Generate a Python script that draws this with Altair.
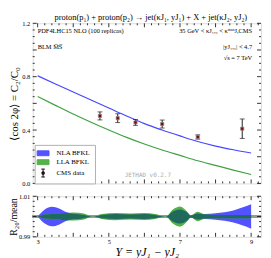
import altair as alt
import pandas as pd

SERIF = "Liberation Serif"

# ---- data ----
title_text = "proton(p₁) + proton(p₂) → jet(κJ₁, yJ₁) + X + jet(κJ₂, yJ₂)"
series_names = ["NLA BFKL", "LLA BFKL", "CMS data"]

curve_x = [3.0, 3.5, 4.0, 4.5, 5.0, 5.5, 6.0, 6.5, 7.0, 7.5, 8.0, 8.5, 9.0]
nla_mean = [0.807, 0.745, 0.685, 0.625, 0.565, 0.505, 0.448, 0.400, 0.356, 0.314, 0.280, 0.252, 0.228]
lla_mean = [0.651, 0.585, 0.520, 0.458, 0.400, 0.345, 0.295, 0.250, 0.210, 0.170, 0.135, 0.100, 0.067]

cms_x = [4.75, 5.25, 5.75, 6.5, 7.5, 8.75]
cms_y = [0.506, 0.489, 0.457, 0.445, 0.348, 0.410]
cms_err = [0.030, 0.033, 0.022, 0.030, 0.016, 0.073]

ratio_x = [3.0, 3.2, 3.4, 3.6, 3.8, 4.0, 4.3, 4.55, 4.8, 5.2, 5.6, 6.0, 6.3, 6.6,
           6.8, 7.0, 7.2, 7.3, 7.5, 7.7, 8.0, 8.5, 9.0]
nla_halfwidth = [0, .0035, .0048, .0040, .0022, .0014, .0008, 0, .0008, .0012, .0010, .0012, .0008, 0,
                 .0025, .0035, .0020, .0005, .0015, .0012, .0016, .0030, .0060]
lla_halfwidth = [0, .0010, .0012, .0015, .0018, .0020, .0015, 0, .0012, .0018, .0015, .0017, .0012, 0,
                 .0035, .0050, .0025, .0005, .0023, .0010, .0008, .0008, .0008]

x_ticks = [3, 4, 5, 6, 7, 8, 9]
x_minor = [round(3 + 0.2 * i, 2) for i in range(32) if i % 5 != 0]
y_ticks_top = [0.0, 0.2, 0.4, 0.6, 0.8, 1.0, 1.2]
y_minor_top = [round(0.05 * i, 3) for i in range(25) if i % 4 != 0]
y_ticks_bot = [0.99, 1.00, 1.01]
y_minor_bot = [0.9925, 0.995, 0.9975, 1.0025, 1.005, 1.0075]
x_domain = [2.861, 9.278]
top_domain = [0.0, 1.2]
bot_domain = [0.99, 1.01]

info_left = ["PDF4LHC15 NLO (100 replicas)", "BLM M̅S̅"]
info_right = ["35 GeV < κJ₁,₂ < κᵐᵃˣJ,CMS", "|yJ₁,₂| < 4.7", "√s = 7 TeV"]
watermark = "JETHAD v0.2.7"

BLUE = "#4747ff"
GREEN = "#3fa23f"
BAND_BLUE = "#5252ff"
BAND_GREEN = "#55b24a"
OVERLAP = "#1f6a5c"
DARKRED = "#8b0000"

W = 231
H_TOP = 162
H_BOT = 41
MAJ = 4
MIN = 2

# ---- tables ----
n = len(curve_x)
curves = pd.DataFrame({
    "x": curve_x + curve_x,
    "y": nla_mean + lla_mean,
    "s": ["NLA BFKL"] * n + ["LLA BFKL"] * n,
})
cms = pd.DataFrame({"x": cms_x, "y": cms_y, "err": cms_err})
cms["lo"] = cms["y"] - cms["err"]
cms["hi"] = cms["y"] + cms["err"]

legend_df = pd.DataFrame({"series": series_names, "x": [curve_x[0]] * 3, "y": [None] * 3})

ratio = pd.DataFrame({"x": ratio_x, "hb": nla_halfwidth, "hg": lla_halfwidth})
ratio["b_lo"] = 1 - ratio["hb"]
ratio["b_hi"] = 1 + ratio["hb"]
ratio["g_lo"] = 1 - ratio["hg"]
ratio["g_hi"] = 1 + ratio["hg"]
ratio["ov"] = ratio[["hb", "hg"]].min(axis=1)
ratio["o_lo"] = 1 - ratio["ov"]
ratio["o_hi"] = 1 + ratio["ov"]

# ---- scales/axes ----
xs = alt.Scale(domain=x_domain, nice=False, zero=False)
ys_top = alt.Scale(domain=top_domain, nice=False, zero=False)
ys_bot = alt.Scale(domain=bot_domain, nice=False, zero=False)

ax_common = dict(domain=False, grid=False, ticks=False, labelFontSize=6.5,
                 labelFont=SERIF, labelColor="black", labelOverlap=False,
                 titleFont=SERIF, titleColor="black", titleFontWeight="normal")

x_top_axis = alt.Axis(values=x_ticks, labels=False, title=None, **ax_common)
y_top_axis = alt.Axis(values=y_ticks_top, format=".1f", title="⟨cos 2φ⟩ = C₂/C₀",
                      titleFontSize=11, titlePadding=2, labelPadding=3, **ax_common)

x_bot_axis = alt.Axis(values=x_ticks, format="d", title="Y = yJ₁ − yJ₂",
                      titleFontSize=12, titleFontStyle="italic", titlePadding=1, labelPadding=2, **ax_common)
y_bot_axis = alt.Axis(values=y_ticks_bot, format=".2f", title="R₂₀/mean",
                      titleFontSize=10, titlePadding=0, labelPadding=3, **ax_common)


def frame_ticks(xvals, yvals, h, length):
    xd = pd.DataFrame({"v": xvals})
    yd = pd.DataFrame({"v": yvals})
    r = dict(color="black", strokeWidth=0.8)
    return [
        alt.Chart(xd).mark_rule(**r).encode(x="v:Q", y=alt.value(h), y2=alt.value(h - length)),
        alt.Chart(xd).mark_rule(**r).encode(x="v:Q", y=alt.value(0), y2=alt.value(length)),
        alt.Chart(yd).mark_rule(**r).encode(y="v:Q", x=alt.value(0), x2=alt.value(length)),
        alt.Chart(yd).mark_rule(**r).encode(y="v:Q", x=alt.value(W), x2=alt.value(W - length)),
    ]


# ---- top panel ----
lines = alt.Chart(curves).mark_line(strokeWidth=1.2, interpolate="monotone").encode(
    x=alt.X("x:Q", scale=xs, axis=x_top_axis),
    y=alt.Y("y:Q", scale=ys_top, axis=y_top_axis),
    color=alt.Color("s:N", scale=alt.Scale(domain=series_names[:2], range=[BLUE, GREEN]), legend=None),
    detail="s:N",
)

err_rules = alt.Chart(cms).mark_rule(color="#222", strokeWidth=1).encode(
    x="x:Q", y="lo:Q", y2="hi:Q")
cap_lo = alt.Chart(cms).mark_tick(orient="horizontal", size=5, thickness=1, color="#222").encode(
    x="x:Q", y="lo:Q")
cap_hi = alt.Chart(cms).mark_tick(orient="horizontal", size=5, thickness=1, color="#222").encode(
    x="x:Q", y="hi:Q")
pts = alt.Chart(cms).mark_square(size=10, color=DARKRED, stroke="#888", strokeWidth=0.8, opacity=1).encode(
    x="x:Q", y="y:Q")

rect_path = "M-1.5,-0.62H1.5V0.62H-1.5Z"
err_path = "M0,-1V1M-0.45,-1H0.45M-0.45,1H0.45M-0.28,-0.28H0.28V0.28H-0.28Z"
leg = alt.Legend(title=None, orient="none", legendX=2, legendY=123, padding=4,
                 strokeColor="#b0b0b0", fillColor="white", labelFont=SERIF, labelFontSize=7,
                 labelColor="black", symbolSize=64, symbolStrokeWidth=1, rowPadding=0, labelOffset=9,
                 symbolOpacity=1)
legend_layer = alt.Chart(legend_df).mark_point(filled=True, opacity=1).encode(
    x="x:Q", y="y:Q",
    fill=alt.Fill("series:N", scale=alt.Scale(domain=series_names, range=[BAND_BLUE, BAND_GREEN, DARKRED]),
                  legend=leg, sort=series_names),
    stroke=alt.Stroke("series:N", scale=alt.Scale(domain=series_names, range=[BAND_BLUE, BAND_GREEN, "#111"]),
                      legend=leg, sort=series_names),
    shape=alt.Shape("series:N", scale=alt.Scale(domain=series_names, range=[rect_path, rect_path, err_path]),
                    legend=leg, sort=series_names),
)


def txt(s, x, y, align="left", font=SERIF, size=6.5, color="black"):
    return alt.Chart(pd.DataFrame({"t": [s]})).mark_text(
        align=align, baseline="middle", font=font, fontSize=size, color=color
    ).encode(text="t:N", x=alt.value(x), y=alt.value(y))


texts = [
    txt(title_text, W / 2 + 4, -6, align="center", size=8.5),
    txt(info_left[0], 5, 8),
    txt(info_left[1], 5, 24),
    txt(info_right[0], 222, 8, align="right"),
    txt(info_right[1], 222, 24, align="right"),
    txt(info_right[2], 222, 35, align="right"),
    txt(watermark, 93, 154, font="DejaVu Sans Mono", size=6, color="#aaaaaa"),
]

top = alt.layer(
    lines, err_rules, cap_lo, cap_hi, pts, legend_layer,
    *frame_ticks(x_ticks, y_ticks_top, H_TOP, MAJ),
    *frame_ticks(x_minor, y_minor_top, H_TOP, MIN),
    *texts,
).properties(width=W, height=H_TOP)

# ---- bottom panel ----
base_b = alt.Chart(ratio)
one_line = base_b.mark_rule(color="#999999", strokeWidth=1.5).encode(
    y=alt.Y("datum_one:Q", scale=ys_bot, axis=y_bot_axis)
).transform_calculate(datum_one="1")
band_b = base_b.mark_area(color=BAND_BLUE, interpolate="monotone", opacity=1).encode(
    x=alt.X("x:Q", scale=xs, axis=x_bot_axis),
    y=alt.Y("b_lo:Q", scale=ys_bot, axis=y_bot_axis), y2="b_hi:Q")
band_g = base_b.mark_area(color=BAND_GREEN, interpolate="monotone", opacity=1).encode(
    x="x:Q", y="g_lo:Q", y2="g_hi:Q")
band_o = base_b.mark_area(color=OVERLAP, interpolate="monotone", opacity=1).encode(
    x="x:Q", y="o_lo:Q", y2="o_hi:Q")

bottom = alt.layer(
    one_line, band_b, band_g, band_o,
    *frame_ticks(x_ticks, y_ticks_bot, H_BOT, MAJ),
    *frame_ticks(x_minor, y_minor_bot, H_BOT, MIN),
).properties(width=W, height=H_BOT)

chart = alt.vconcat(top, bottom, spacing=5).properties(
    padding={"left": 0, "top": 3, "right": 0, "bottom": 0}
).configure_view(stroke="black", strokeWidth=1).configure(background="white")

chart.save("out.html", embed_options={"renderer": "svg", "actions": False})
